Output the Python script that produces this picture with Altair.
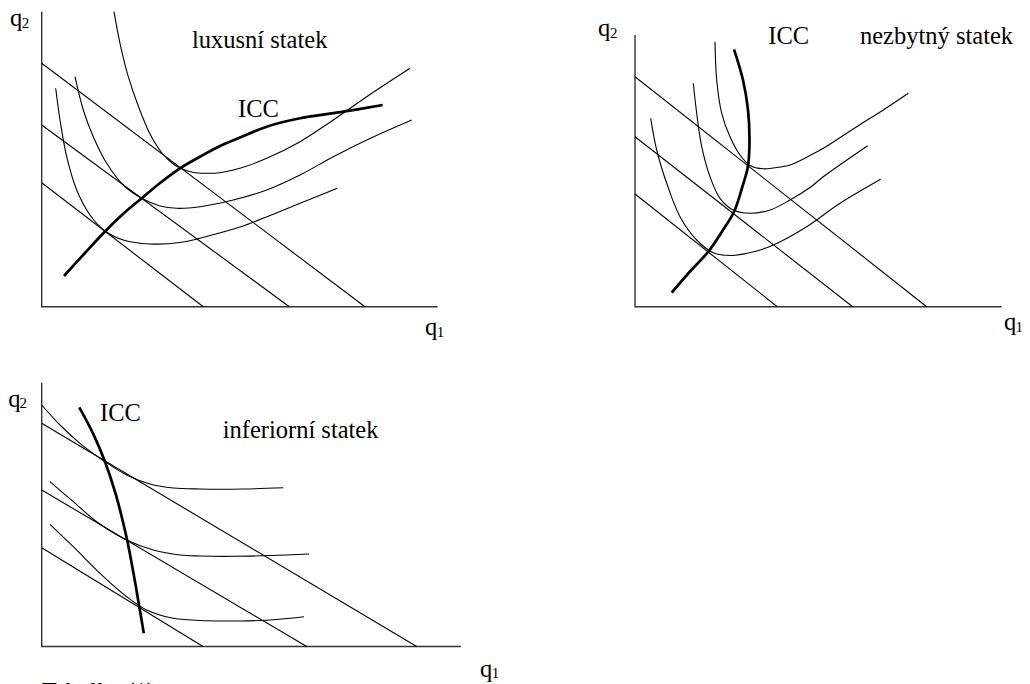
import altair as alt
import pandas as pd

# ---------- Panel 1: luxusní statek ----------
p1_axis = [(41.7, 11.7), (41.7, 306.7), (437.7, 306.7)]
p1_bl1 = [(41.7, 182.7), (203.3, 306.7)]
p1_bl2 = [(41.7, 125.0), (289.3, 306.7)]
p1_bl3 = [(41.7, 63.3), (365.0, 306.7)]
p1_ic1 = [(55.7, 88.3), (60, 120), (66.7, 156.7), (76.7, 190), (90, 215), (105, 231),
          (123.3, 240), (150, 244), (180, 242.5), (210, 235.5), (240, 227), (270, 215.5),
          (300, 203.3), (337.3, 188.3)]
p1_ic2 = [(75, 76.7), (83.3, 110), (93.3, 136.7), (106.7, 163.3), (123.3, 185), (141.7, 198.3),
          (160, 206), (176.7, 208.3), (200, 206.7), (233.3, 200), (266.7, 190), (300, 175),
          (333.3, 156.7), (366.7, 140), (411.7, 120)]
p1_ic3 = [(114, 11.7), (120, 43.3), (128.3, 76.7), (139, 108), (150, 134), (162, 153),
          (172, 163), (180, 168), (193.3, 172.5), (206.7, 173.3), (220, 172.7), (240, 168.3),
          (266.7, 158.3), (300, 141.7), (333.3, 120), (366.7, 96.7), (410, 68.3)]
p1_icc = [(64, 276), (85, 253), (105, 231.5), (123, 214), (141.7, 198.3), (160, 183),
          (180, 168.3), (200, 156.7), (220, 146), (240, 137.5), (266.7, 126.7), (300, 118.3),
          (343.3, 111.7), (382.7, 105)]

# ---------- Panel 2: nezbytný statek ----------
p2_axis = [(635, 35), (635, 306.7), (1001.7, 306.7)]
p2_bl1 = [(635, 194), (777.3, 306.7)]
p2_bl2 = [(635, 136.7), (852.7, 306.7)]
p2_bl3 = [(635, 76.7), (926.7, 306.7)]
p2_ic1 = [(650.7, 118.3), (656.7, 150), (666.7, 183.3), (680, 216.7), (696.7, 240),
          (713.3, 252.7), (730, 255.5), (756.7, 251), (773.3, 245), (806.7, 226.7),
          (840, 203.3), (880.7, 179.3)]
p2_ic2 = [(693.3, 83.3), (696.7, 113.3), (701.7, 146.7), (710, 176.7), (720, 198.3),
          (733.3, 210), (750, 213.3), (770, 210), (790, 200), (810, 187.5), (823.3, 176.7),
          (867.7, 145.7)]
p2_ic3 = [(715, 41.7), (716.7, 80), (721.7, 113.3), (730, 136.7), (740, 155), (750, 165.5),
          (763.3, 168.8), (780, 167), (790, 165), (810, 155.5), (823.3, 148.3), (856.7, 126.7),
          (883.3, 110), (908.3, 93.3)]
p2_icc = [(671.7, 292.7), (690, 271.5), (708, 252), (722, 231.5), (734, 211.7), (742, 188),
          (748, 166), (749.5, 140), (748, 110), (743, 80), (734, 49.3)]

# ---------- Panel 3: inferiorní statek ----------
p3_axis = [(41.7, 382.7), (41.7, 646.5), (461, 646.5)]
p3_bl1 = [(41.7, 547.7), (203, 646.5)]
p3_bl2 = [(41.7, 490), (306.7, 646.5)]
p3_bl3 = [(41.7, 423.3), (416.7, 646.5)]
p3_ic1 = [(50, 524.3), (73.3, 546.7), (100, 573.3), (126.7, 596.7), (146.7, 610),
          (173.3, 618.3), (206.7, 620.7), (240, 621), (270, 620), (304, 616.7)]
p3_ic2 = [(50, 481.7), (73.3, 501.7), (96.7, 521.7), (126.7, 540), (153.3, 550), (180, 555),
          (200, 556), (233.3, 556.3), (270, 555.5), (309, 554)]
p3_ic3 = [(41.7, 405), (60, 425), (80, 443.3), (105, 461.7), (126.7, 475), (150, 484),
          (173.3, 488), (200, 489), (243.3, 489), (283.3, 487.7)]
p3_icc = [(79.3, 407.3), (93, 433.3), (105, 461.7), (115.5, 493.3), (122.5, 520),
          (127.5, 541.7), (133.5, 573.3), (139.3, 606.7), (143.8, 633.3)]

# ---------- Labels ----------
label_text = ["q", "q", "luxusní statek", "ICC",
              "q", "q", "ICC", "nezbytný statek",
              "q", "q", "ICC", "inferiorní statek", "Tabulka (1)"]
label_x = [10, 425, 192, 238, 598, 1004, 768.3, 860, 8.3, 480, 100, 222.7, 41.7]
label_y = [26, 335, 47.5, 116.5, 36, 330, 44, 44, 406.7, 676.5, 420.7, 438.3, 699.5]
sub_text = ["2", "1", "2", "1", "2", "1"]
sub_x = [21.7, 436.7, 610, 1015.5, 19.5, 491.7]
sub_y = [28.3, 336.7, 38.3, 331.5, 407.5, 677.5]

SERIF = "Liberation Serif, Times New Roman, DejaVu Serif, serif"


def to_df(series):
    rows = []
    for name, pts in series.items():
        for i, (x, y) in enumerate(pts):
            rows.append({"series": name, "order": i, "x": x, "y": y})
    return pd.DataFrame(rows)


axes_df = to_df({"a1": p1_axis, "a2": p2_axis, "a3": p3_axis})
thin_df = to_df({
    "p1_bl1": p1_bl1, "p1_bl2": p1_bl2, "p1_bl3": p1_bl3,
    "p1_ic1": p1_ic1, "p1_ic2": p1_ic2, "p1_ic3": p1_ic3,
    "p2_bl1": p2_bl1, "p2_bl2": p2_bl2, "p2_bl3": p2_bl3,
    "p2_ic1": p2_ic1, "p2_ic2": p2_ic2, "p2_ic3": p2_ic3,
    "p3_bl1": p3_bl1, "p3_bl2": p3_bl2, "p3_bl3": p3_bl3,
    "p3_ic1": p3_ic1, "p3_ic2": p3_ic2, "p3_ic3": p3_ic3,
})
thick_df = to_df({"p1_icc": p1_icc, "p2_icc": p2_icc, "p3_icc": p3_icc})
labels_df = pd.DataFrame({"text": label_text, "x": label_x, "y": label_y})
subs_df = pd.DataFrame({"text": sub_text, "x": sub_x, "y": sub_y})

X = alt.X("x:Q", scale=alt.Scale(domain=[8, 1022], nice=False, zero=False), axis=None)
Y = alt.Y("y:Q", scale=alt.Scale(domain=[676, 8], nice=False, zero=False), axis=None)

axes_layer = alt.Chart(axes_df).mark_line(color="#333333", strokeWidth=1.4).encode(
    x=X, y=Y, detail="series:N", order="order:Q")
thin_layer = alt.Chart(thin_df).mark_line(
    color="black", strokeWidth=1.1, interpolate="catmull-rom").encode(
    x=X, y=Y, detail="series:N", order="order:Q")
thick_layer = alt.Chart(thick_df).mark_line(
    color="black", strokeWidth=2.7, interpolate="catmull-rom").encode(
    x=X, y=Y, detail="series:N", order="order:Q")
label_layer = alt.Chart(labels_df).mark_text(
    align="left", baseline="alphabetic", font=SERIF, fontSize=24.5,
    color="black").encode(x=X, y=Y, text="text:N")
sub_layer = alt.Chart(subs_df).mark_text(
    align="left", baseline="alphabetic", font=SERIF, fontSize=15,
    color="black").encode(x=X, y=Y, text="text:N")

chart = alt.layer(axes_layer, thin_layer, thick_layer, label_layer, sub_layer).properties(
    width=1014, height=668, autosize="none",
    padding={"left": 0, "right": 0, "top": 0, "bottom": 8},
).configure_view(stroke=None)

chart.save("out.html", embed_options={"renderer": "svg", "actions": False})
